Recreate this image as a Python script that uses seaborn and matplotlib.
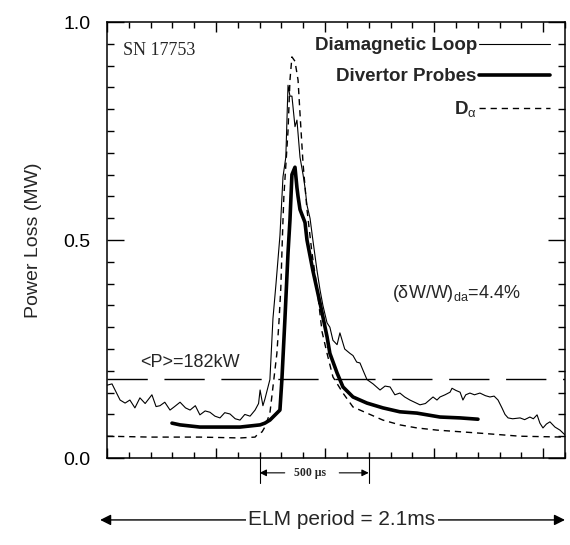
import matplotlib
matplotlib.use("Agg")
import matplotlib.pyplot as plt
import matplotlib.transforms as mtransforms
from matplotlib.lines import Line2D
from matplotlib.ticker import MultipleLocator, FormatStrFormatter
import pandas as pd
import seaborn as sns

# time in microseconds from the start of the ELM period, power loss in MW
dia_t = [0, 23, 37, 60, 83, 105, 128, 151, 175, 206, 225, 243, 265, 289, 310, 335, 360,
         381, 405, 426, 450, 472, 495, 518, 540, 564, 588, 610, 632, 656, 679, 695, 702,
         715, 724, 747, 761, 775, 793, 807, 820, 830, 839, 848, 862, 871, 885, 899, 908,
         917, 931, 944, 963, 977, 990, 1009, 1022, 1036, 1055, 1068, 1090, 1114, 1128,
         1145, 1160, 1175, 1192, 1220, 1252, 1275, 1298, 1320, 1343, 1365, 1389, 1410,
         1435, 1460, 1495, 1513, 1527, 1550, 1573, 1582, 1600, 1619, 1632, 1645, 1664,
         1685, 1710, 1735, 1756, 1775, 1793, 1811, 1825, 1839, 1860, 1894, 1915, 1939,
         1955, 1972, 1985, 1999, 2015, 2031, 2054, 2077, 2100]
dia_p = [0.167, 0.17, 0.156, 0.133, 0.126, 0.133, 0.115, 0.138, 0.125, 0.145, 0.118, 0.12,
         0.128, 0.11, 0.118, 0.128, 0.115, 0.11, 0.12, 0.099, 0.108, 0.105, 0.096, 0.092,
         0.104, 0.101, 0.09, 0.087, 0.1, 0.096, 0.11, 0.125, 0.156, 0.12, 0.135, 0.18,
         0.32, 0.4, 0.51, 0.645, 0.69, 0.855, 0.83, 0.83, 0.76, 0.775, 0.69, 0.65, 0.62,
         0.58, 0.55, 0.5, 0.43, 0.385, 0.35, 0.31, 0.3, 0.27, 0.26, 0.287, 0.25, 0.24,
         0.235, 0.22, 0.218, 0.2, 0.18, 0.17, 0.156, 0.165, 0.163, 0.145, 0.149, 0.14,
         0.133, 0.128, 0.122, 0.125, 0.14, 0.133, 0.14, 0.145, 0.151, 0.16, 0.155, 0.151,
         0.133, 0.145, 0.149, 0.145, 0.149, 0.143, 0.14, 0.142, 0.133, 0.115, 0.1, 0.092,
         0.09, 0.092, 0.088, 0.094, 0.09, 0.099, 0.08, 0.069, 0.078, 0.083, 0.071, 0.064,
         0.053]

probe_t = [298, 335, 426, 518, 610, 702, 724, 747, 793, 802, 816, 830, 839, 848, 862, 871,
           876, 885, 908, 917, 944, 977, 1009, 1022, 1055, 1082, 1128, 1192, 1265, 1343,
           1421, 1527, 1619, 1701]
probe_p = [0.08, 0.076, 0.071, 0.071, 0.071, 0.076, 0.08, 0.087, 0.11, 0.18, 0.32, 0.47,
           0.546, 0.65, 0.667, 0.62, 0.6, 0.57, 0.54, 0.5, 0.43, 0.355, 0.278, 0.24, 0.195,
           0.163, 0.14, 0.126, 0.115, 0.106, 0.103, 0.094, 0.092, 0.089]

dalpha_t = [0, 198, 426, 610, 679, 688, 711, 724, 747, 761, 779, 789, 797, 802, 807, 811,
            830, 839, 848, 862, 876, 885, 899, 917, 940, 963, 986, 1009, 1036, 1082, 1128,
            1192, 1265, 1343, 1421, 1513, 1710, 1894, 2100]
dalpha_p = [0.05, 0.048, 0.048, 0.046, 0.048, 0.053, 0.06, 0.071, 0.103, 0.163, 0.24, 0.316,
            0.39, 0.47, 0.546, 0.6, 0.75, 0.867, 0.92, 0.91, 0.867, 0.79, 0.675, 0.57, 0.47,
            0.39, 0.29, 0.24, 0.186, 0.149, 0.117, 0.103, 0.087, 0.076, 0.069, 0.064, 0.057,
            0.05, 0.048]

series_labels = ["Diamagnetic Loop", "Divertor Probes", "D$_{\\mathrm{\u03b1}}$"]
mean_power = 0.182          # <P> = 182 kW
elm_period_us = 2100
scale_start, scale_end = 700, 1200   # the 500 us scale bar

sns.set_theme(style="ticks")
plt.rcParams["font.family"] = ["Liberation Sans", "DejaVu Sans"]
plt.rcParams["mathtext.fontset"] = "custom"
plt.rcParams["mathtext.rm"] = "Liberation Sans"
plt.rcParams["mathtext.it"] = "Liberation Sans:italic"
plt.rcParams["mathtext.bf"] = "Liberation Sans:bold"

fig = plt.figure(figsize=(5.7, 5.45), dpi=100)
ax = fig.add_axes([0.1877, 0.1596, 0.8035, 0.80])

df_dia = pd.DataFrame({"t": dia_t, "p": dia_p})
df_probe = pd.DataFrame({"t": probe_t, "p": probe_p})
df_dalpha = pd.DataFrame({"t": dalpha_t, "p": dalpha_p})

sns.lineplot(data=df_dia, x="t", y="p", ax=ax, color="black", lw=0.8,
             estimator=None, sort=False)
sns.lineplot(data=df_probe, x="t", y="p", ax=ax, color="black", lw=2.6,
             estimator=None, sort=False)
sns.lineplot(data=df_dalpha, x="t", y="p", ax=ax, color="black", lw=1.0,
             estimator=None, sort=False, dashes=False)
ax.lines[-1].set_dashes((4.5, 3.5))

# mean power line
ax.axhline(mean_power, color="black", lw=1.0, dashes=(29, 12))

ax.set_xlim(0, elm_period_us)
ax.set_ylim(0, 1.0)

ax.xaxis.set_major_locator(MultipleLocator(500))
ax.xaxis.set_minor_locator(MultipleLocator(100))
ax.yaxis.set_major_locator(MultipleLocator(0.5))
ax.yaxis.set_minor_locator(MultipleLocator(0.05))
ax.yaxis.set_major_formatter(FormatStrFormatter("%.1f"))
ax.tick_params(axis="both", which="both", direction="in", top=True, right=True,
               colors="black", width=1.0)
ax.tick_params(axis="x", which="both", labelbottom=False)
ax.tick_params(axis="x", which="major", length=7)
ax.tick_params(axis="x", which="minor", length=4)
ax.tick_params(axis="y", which="major", length=12, labelsize=14, pad=12)
ax.tick_params(axis="y", which="minor", length=5)
for s in ax.spines.values():
    s.set_linewidth(1.1)
    s.set_color("black")

ax.set_xlabel("")
ax.set_ylabel("Power Loss (MW)", fontsize=14, labelpad=15)

handles = [Line2D([], [], color="black", lw=0.8),
           Line2D([], [], color="black", lw=2.6),
           Line2D([], [], color="black", lw=1.0, dashes=(4.5, 3.5))]
ax.legend(handles, series_labels, loc="upper right", frameon=False, markerfirst=False,
          handlelength=3.8, handletextpad=0.1, labelspacing=0.75, borderaxespad=0.4,
          prop={"weight": "bold", "size": 13.5})

ax.text(0.035, 0.955, "SN 17753", transform=ax.transAxes, ha="left", va="top",
        fontsize=13, family="Liberation Serif")
ax.text(0.072, 0.22, "<P>=182kW", transform=ax.transAxes, ha="left", va="center",
        fontsize=13)
ax.text(0.622, 0.378, "(\u03b4W/W)$_{\\rm da}$=4.4%", transform=ax.transAxes,
        ha="left", va="center", fontsize=13)

# 500 us scale bar under the axis
trans = mtransforms.blended_transform_factory(ax.transData, ax.transAxes)
for xv in (scale_start, scale_end):
    ax.plot([xv, xv], [0, -0.058], transform=trans, color="black", lw=0.8, clip_on=False)
mid = (scale_start + scale_end) / 2
ax.text(mid - 20, -0.034, "500 \u03bcs", transform=trans, ha="center", va="center",
        fontsize=8.5, family="Liberation Serif", weight="bold")
ax.annotate("", xy=(scale_start, -0.034), xytext=(scale_start + 115, -0.034),
            xycoords=trans, textcoords=trans,
            arrowprops=dict(arrowstyle="-|>", color="black", lw=0.8, mutation_scale=10,
                            shrinkA=0, shrinkB=0))
ax.annotate("", xy=(scale_end, -0.034), xytext=(scale_end - 135, -0.034),
            xycoords=trans, textcoords=trans,
            arrowprops=dict(arrowstyle="-|>", color="black", lw=0.8, mutation_scale=10,
                            shrinkA=0, shrinkB=0))

# ELM period arrow
ax.annotate("", xy=(-0.015, -0.142), xytext=(1.0, -0.142), xycoords="axes fraction",
            textcoords="axes fraction",
            arrowprops=dict(arrowstyle="<|-|>", color="black", lw=1.0, mutation_scale=16,
                            shrinkA=0, shrinkB=0))
ax.text(0.513, -0.142, "ELM period = 2.1ms", transform=ax.transAxes, ha="center",
        va="center", fontsize=15,
        bbox=dict(facecolor="white", edgecolor="none", pad=1.5))

fig.savefig("out.png", dpi=100)
